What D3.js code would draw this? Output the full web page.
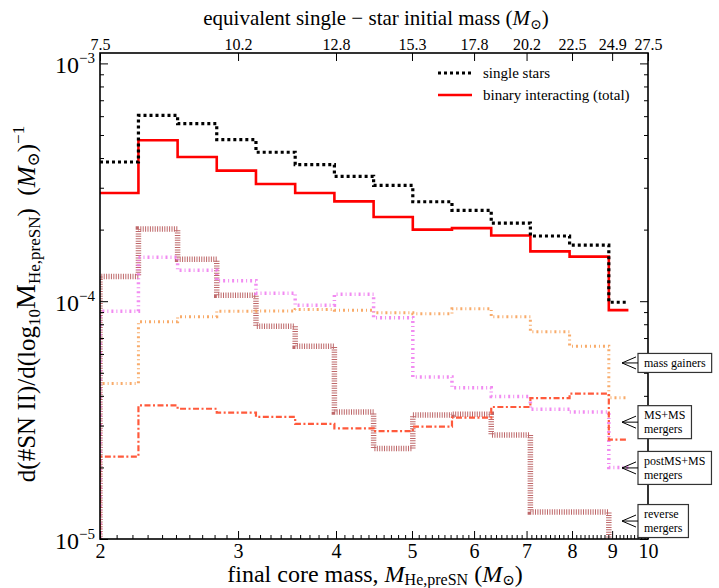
<!DOCTYPE html>
<html>
<head>
<meta charset="utf-8">
<script src="https://cdn.jsdelivr.net/npm/d3@7"></script>
<style>
  html, body { margin: 0; padding: 0; background: #fff; overflow: hidden; }
  svg text { font-family: "Liberation Serif", "DejaVu Serif", serif; fill: #000; }
</style>
</head>
<body>
<svg id="chart" width="719" height="588"></svg>
<script>
// ---------------- data ----------------
// bin edges in final core mass M_He,preSN (Msun)
const binEdges = [2.00, 2.239, 2.512, 2.818, 3.162, 3.548, 3.981, 4.467, 5.012, 5.623, 6.310, 7.079, 7.943, 8.913, 9.441];

const singleStars = [3.85e-4, 6.04e-4, 5.58e-4, 4.78e-4, 4.23e-4, 3.75e-4, 3.35e-4, 3.07e-4, 2.62e-4, 2.41e-4, 2.13e-4, 1.88e-4, 1.72e-4, 0.99e-4];
const binaryTotal = [2.85e-4, 4.75e-4, 4.04e-4, 3.54e-4, 3.11e-4, 2.85e-4, 2.63e-4, 2.26e-4, 2.00e-4, 2.03e-4, 1.89e-4, 1.62e-4, 1.54e-4, 0.917e-4];
const massGainers = [4.51e-5, 8.19e-5, 8.60e-5, 9.08e-5, 9.10e-5, 9.23e-5, 9.17e-5, 8.94e-5, 8.85e-5, 9.29e-5, 8.60e-5, 7.44e-5, 6.47e-5, 3.93e-5];
const msmsMergers = [2.22e-5, 3.65e-5, 3.53e-5, 3.40e-5, 3.26e-5, 3.05e-5, 2.92e-5, 2.84e-5, 2.97e-5, 3.24e-5, 3.59e-5, 3.91e-5, 4.09e-5, 2.62e-5];
const postmsMergers = [9.08e-5, 1.53e-4, 1.35e-4, 1.22e-4, 1.08e-4, 9.62e-5, 1.07e-4, 8.52e-5, 4.80e-5, 4.33e-5, 3.97e-5, 3.51e-5, 3.42e-5, 2.00e-5];
const reverseMergers = [1.27e-4, 2.01e-4, 1.50e-4, 1.06e-4, 7.85e-5, 6.47e-5, 3.42e-5, 2.40e-5, 3.32e-5, 3.35e-5, 2.74e-5, 1.30e-5, 1.30e-5, 5e-6];

const bottomTicks = [2, 3, 4, 5, 6, 7, 8, 9, 10];
const topTickLabels = ["7.5", "10.2", "12.8", "15.3", "17.8", "20.2", "22.5", "24.9", "27.5"];
const legendLabels = ["single stars", "binary interacting (total)"];
const annotations = [
  { lines: ["mass gainers"], value: 5.5e-5 },
  { lines: ["MS+MS", "mergers"], value: 3.1e-5 },
  { lines: ["postMS+MS", "mergers"], value: 1.99e-5 },
  { lines: ["reverse", "mergers"], value: 1.19e-5 }
];

// ---------------- layout ----------------
const L = 100, R = 648, T = 53, B = 539;
const svg = d3.select("#chart");
const x = d3.scaleLog().domain([2, 10]).range([L, R]);
const y = d3.scaleLog().domain([1e-5, 1.106e-3]).range([B, T]);

svg.append("defs").append("clipPath").attr("id", "clip")
  .append("rect").attr("x", L).attr("y", T).attr("width", R - L).attr("height", B - T);

const plot = svg.append("g").attr("clip-path", "url(#clip)");

function stepPoints(vals) {
  const pts = vals.map((v, i) => [binEdges[i], v]);
  pts.push([binEdges[binEdges.length - 1], vals[vals.length - 1]]);
  return pts;
}
const line = d3.line().x(d => x(d[0])).y(d => y(d[1])).curve(d3.curveStepAfter);

const series = [
  { vals: reverseMergers, color: "#a3282b", width: 5.5, dash: "1,1.4", opacity: 0.7, lead: true },
  { vals: massGainers, color: "#f7a25a", width: 3, dash: "2,3,1,3", opacity: 0.9, lead: true },
  { vals: postmsMergers, color: "#ee77ee", width: 3.5, dash: "2,3,1,3", opacity: 0.85, lead: true },
  { vals: msmsMergers, color: "#ff5a3c", width: 2.2, dash: "6,2.5,2,2.5", opacity: 1, lead: true },
  { vals: binaryTotal, color: "#ff0000", width: 2.6, dash: null, opacity: 1, lead: false },
  { vals: singleStars, color: "#000000", width: 3.2, dash: "3,3", opacity: 1, lead: false }
];

series.forEach(s => {
  let pts = stepPoints(s.vals);
  if (s.lead) pts = [[binEdges[0], 1e-6]].concat(pts);
  plot.append("path")
    .attr("d", line(pts))
    .attr("fill", "none")
    .attr("stroke", s.color)
    .attr("stroke-width", s.width)
    .attr("stroke-dasharray", s.dash)
    .attr("stroke-opacity", s.opacity);
});

// ---------------- axes ----------------
const minorX = d3.range(20, 100).map(d => d / 10).filter(d => !bottomTicks.includes(d));
const majorY = [1e-5, 1e-4, 1e-3];
const minorY = [];
[1e-5, 1e-4].forEach(dec => { for (let k = 2; k <= 9; k++) minorY.push(k * dec); });

const bottomAxis = d3.axisBottom(x).tickValues(bottomTicks).tickSizeInner(-8).tickSizeOuter(0).tickPadding(5).tickFormat(d3.format("d"));
const bottomMinor = d3.axisBottom(x).tickValues(minorX).tickSizeInner(-4).tickSizeOuter(0).tickFormat("");
const topAxis = d3.axisTop(x).tickValues(bottomTicks).tickSizeInner(-8).tickSizeOuter(0).tickPadding(3)
  .tickFormat((d, i) => topTickLabels[i]);
const leftAxis = d3.axisLeft(y).tickValues(majorY).tickSizeInner(-8).tickSizeOuter(0).tickFormat("");
const leftMinor = d3.axisLeft(y).tickValues(minorY).tickSizeInner(-4).tickSizeOuter(0).tickFormat("");
const rightAxis = d3.axisRight(y).tickValues(majorY).tickSizeInner(-8).tickSizeOuter(0).tickFormat("");
const rightMinor = d3.axisRight(y).tickValues(minorY).tickSizeInner(-4).tickSizeOuter(0).tickFormat("");

function styleAxis(g) {
  g.select(".domain").remove();
  g.selectAll(".tick line").attr("stroke", "#000").attr("stroke-width", 1);
}
svg.append("g").attr("transform", `translate(0,${B})`).call(bottomAxis).call(styleAxis)
  .selectAll("text").style("font-size", "20px");
svg.append("g").attr("transform", `translate(0,${B})`).call(bottomMinor).call(styleAxis);
svg.append("g").attr("transform", `translate(0,${T})`).call(topAxis).call(styleAxis)
  .selectAll("text").style("font-size", "16px");
svg.append("g").attr("transform", `translate(${L},0)`).call(leftAxis).call(styleAxis);
svg.append("g").attr("transform", `translate(${L},0)`).call(leftMinor).call(styleAxis);
svg.append("g").attr("transform", `translate(${R},0)`).call(rightAxis).call(styleAxis);
svg.append("g").attr("transform", `translate(${R},0)`).call(rightMinor).call(styleAxis);

// frame
svg.append("rect").attr("x", L).attr("y", T).attr("width", R - L).attr("height", B - T)
  .attr("fill", "none").attr("stroke", "#000").attr("stroke-width", 1.6);

// y tick labels 10^-n
majorY.forEach(v => {
  const e = Math.round(Math.log10(v));
  const t = svg.append("text").attr("x", L - 5).attr("y", y(v) + 10).attr("text-anchor", "end")
    .style("font-size", "24px");
  t.append("tspan").text("10");
  t.append("tspan").attr("dy", -10).style("font-size", "15px").text("\u2212" + Math.abs(e));
});

// axis titles
const xt = svg.append("text").attr("x", 375).attr("y", 582).attr("text-anchor", "middle").style("font-size", "24px");
xt.append("tspan").text("final core mass, ");
xt.append("tspan").style("font-style", "italic").text("M");
xt.append("tspan").attr("dy", 3).style("font-size", "16px").text("He,preSN");
xt.append("tspan").attr("dy", -3).text(" (");
xt.append("tspan").style("font-style", "italic").text("M");
xt.append("tspan").attr("dy", 3).style("font-size", "15px").text("\u2299");
xt.append("tspan").attr("dy", -3).text(")");

const tt = svg.append("text").attr("x", 376).attr("y", 25).attr("text-anchor", "middle").style("font-size", "21px");
tt.append("tspan").text("equivalent single \u2212 star initial mass (");
tt.append("tspan").style("font-style", "italic").text("M");
tt.append("tspan").attr("dy", 4).style("font-size", "14px").text("\u2299");
tt.append("tspan").attr("dy", -4).text(")");

const yt = svg.append("text").attr("transform", `translate(35,${(T + B) / 2 + 8}) rotate(-90)`)
  .attr("text-anchor", "middle").style("font-size", "25px");
yt.append("tspan").text("d(#SN II)/d(log");
yt.append("tspan").attr("dy", 5).style("font-size", "17px").text("10");
yt.append("tspan").attr("dy", -5).style("font-size", "28px").text("M");
yt.append("tspan").attr("dy", 5).style("font-size", "17px").text("He,preSN");
yt.append("tspan").attr("dy", -5).text(")\u2002(");
yt.append("tspan").style("font-style", "italic").text("M");
yt.append("tspan").attr("dy", 4).style("font-size", "17px").text("\u2299");
yt.append("tspan").attr("dy", -4).text(")");
yt.append("tspan").attr("dy", -11).style("font-size", "17px").text("\u22121");

// legend
const lg = svg.append("g");
[[series[5], 0], [series[4], 1]].forEach(([s, i]) => {
  const ly = 73 + i * 22;
  lg.append("line").attr("x1", 438).attr("x2", 472).attr("y1", ly).attr("y2", ly)
    .attr("stroke", s.color).attr("stroke-width", s.width).attr("stroke-dasharray", s.dash);
  lg.append("text").attr("x", 483).attr("y", ly + 5).style("font-size", "15px").text(legendLabels[i]);
});

// annotations with boxes and arrows
annotations.forEach(a => {
  const cy = y(a.value);
  const n = a.lines.length;
  const bh = n === 1 ? 19 : 33;
  const g = svg.append("g");
  const txt = g.append("text").style("font-size", "12px");
  a.lines.forEach((ln, i) => {
    txt.append("tspan").attr("x", 644).attr("y", cy - (n - 1) * 7 + i * 14 + 4).text(ln);
  });
  let w = 0;
  txt.selectAll("tspan").each(function () { w = Math.max(w, this.getComputedTextLength()); });
  g.insert("rect", "text").attr("x", 638).attr("y", cy - bh / 2).attr("width", w + 12).attr("height", bh)
    .attr("fill", "#fff").attr("stroke", "#333").attr("stroke-width", 1.2);
  g.append("path").attr("d", `M636,${cy - 6} L622,${cy} L636,${cy + 6} M622,${cy} L638,${cy}`)
    .attr("fill", "none").attr("stroke", "#000").attr("stroke-width", 1);
});
</script>
</body>
</html>
